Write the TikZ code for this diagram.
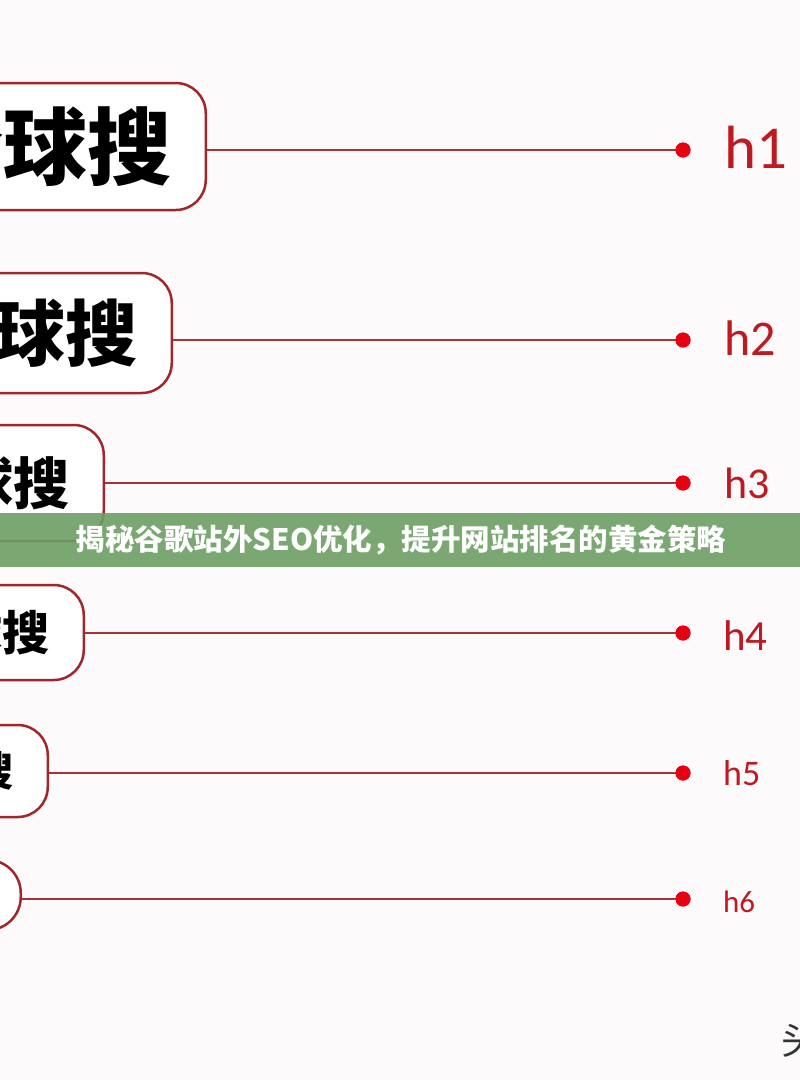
\documentclass[tikz,border=0pt]{standalone}
\usepackage{fontspec}
\newfontfamily\cjk{Noto Sans CJK SC}
\newfontfamily\labfont{Carlito}
\definecolor{bg}{HTML}{FCFAFB}
\definecolor{boxred}{HTML}{A0282D}
\definecolor{linered}{HTML}{A83236}
\definecolor{dotred}{HTML}{E60012}
\definecolor{labred}{HTML}{BE1A22}
\definecolor{bannergreen}{HTML}{6C9E64}
\definecolor{wmgray}{HTML}{333333}
\tikzset{
  boxst/.style={draw=boxred, line width=2.5pt, rounded corners=30pt, fill=white,
    inner ysep=0pt, inner xsep=34pt, text width=300pt, align=right, anchor=east},
  conn/.style={draw=linered, line width=2pt},
  dotst/.style={circle, fill=dotred, minimum size=15pt, inner sep=0pt},
  labst/.style={text=labred, anchor=base west, inner sep=0pt},
  bannerst/.style={fill=bannergreen, fill opacity=0.9, text opacity=1, text=white,
    minimum width=820pt, minimum height=54pt, inner sep=0pt},
}
\begin{document}
\begin{tikzpicture}[x=1pt,y=-1pt]
\clip (0,0) rectangle (800,1080);
\fill[bg] (0,0) rectangle (800,1080);

% boxes
\node[boxst, minimum height=127pt, font=\cjk\bfseries\fontsize{84}{84}\selectfont] (b1) at (207,146.5) {全球搜};
\node[boxst, minimum height=120pt, font=\cjk\bfseries\fontsize{72}{72}\selectfont] (b2) at (173,333) {全球搜};
\node[boxst, minimum height=116pt, font=\cjk\bfseries\fontsize{56}{56}\selectfont] (b3) at (105,483) {全球搜};
\node[boxst, minimum height=95pt, font=\cjk\bfseries\fontsize{47}{47}\selectfont] (b4) at (85,632.5) {全球搜};
\node[boxst, minimum height=92pt, font=\cjk\bfseries\fontsize{41}{41}\selectfont] (b5) at (49,771) {全球搜};
\node[boxst, rounded corners=33pt, minimum height=70pt] (b6) at (22,895) {};

% dots
\node[dotst] (d1) at (683,150) {};
\node[dotst] (d2) at (683,340) {};
\node[dotst] (d3) at (683,483) {};
\node[dotst] (d4) at (683,633) {};
\node[dotst] (d5) at (683,773) {};
\node[dotst] (d6) at (683,899) {};

% connectors
\draw[conn] (d1 -| b1.east) -- (d1.center);
\draw[conn] (d2 -| b2.east) -- (d2.center);
\draw[conn] (d3 -| b3.east) -- (d3.center);
\draw[conn] (d4 -| b4.east) -- (d4.center);
\draw[conn] (d5 -| b5.east) -- (d5.center);
\draw[conn] (d6 -| b6.east) -- (d6.center);
% redraw dots on top
\foreach \d in {d1,d2,d3,d4,d5,d6} \fill[dotred] (\d) circle (7.5pt);

% labels
\node[labst, font=\labfont\fontsize{61}{61}\selectfont] (l1) at (724,168) {h1};
\node[labst, font=\labfont\fontsize{50}{50}\selectfont] (l2) at (724,355) {h2};
\node[labst, font=\labfont\fontsize{44}{44}\selectfont] (l3) at (724,498) {h3};
\node[labst, font=\labfont\fontsize{43}{43}\selectfont] (l4) at (723,650) {h4};
\node[labst, font=\labfont\fontsize{36}{36}\selectfont] (l5) at (723,785) {h5};
\node[labst, font=\labfont\fontsize{31}{31}\selectfont] (l6) at (723,912) {h6};

% banner
\node[bannerst, font=\cjk\bfseries\fontsize{29.5}{29.5}\selectfont] (banner) at (401,540) {揭秘谷歌站外SEO优化，提升网站排名的黄金策略};

% watermark
\node[font=\cjk\fontsize{38}{38}\selectfont, text=wmgray, anchor=west, inner sep=0pt] (wm) at (781,1040) {头};
\end{tikzpicture}
\end{document}
